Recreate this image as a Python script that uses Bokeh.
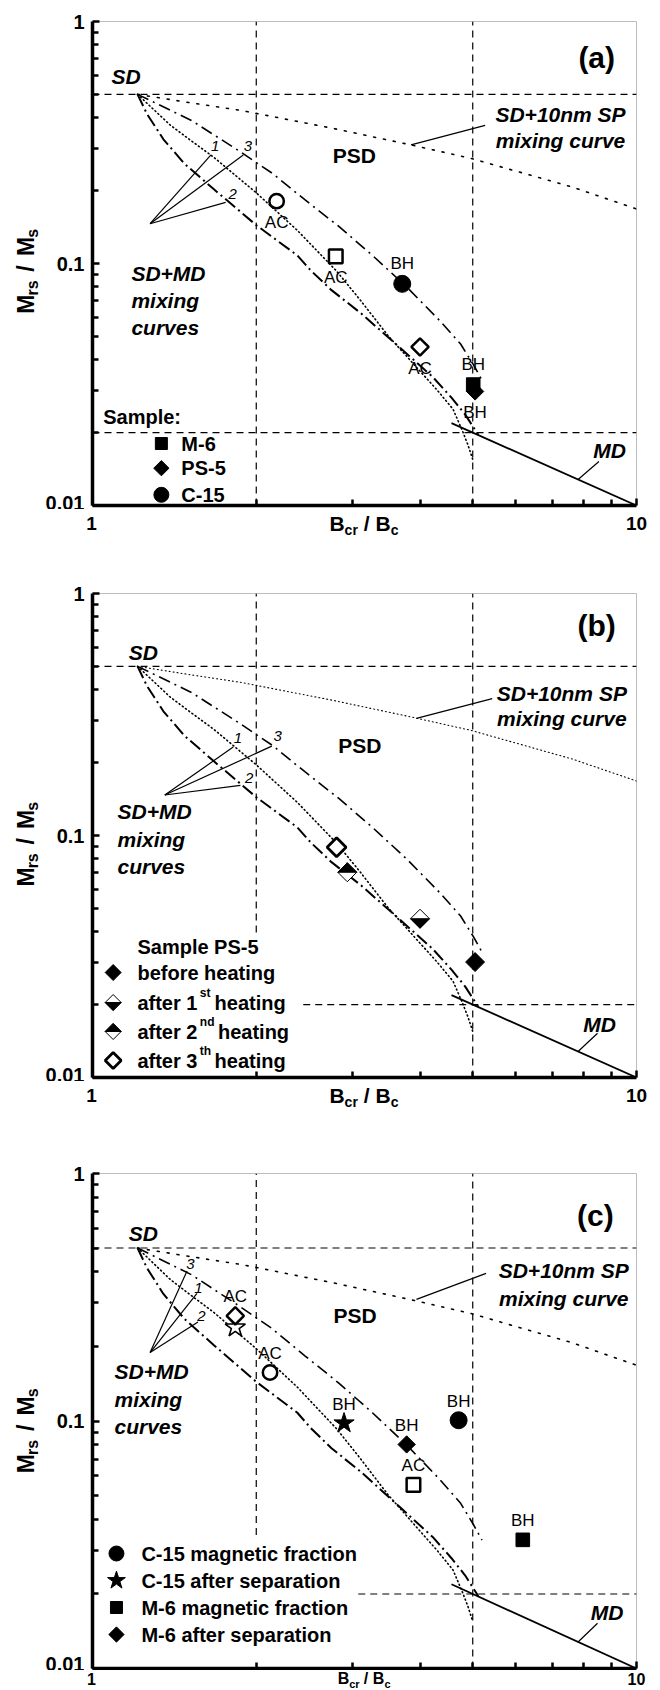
import math
from bokeh.plotting import figure
from bokeh.layouts import column, row
from bokeh.models import Range1d, FixedTicker, CustomJSTickFormatter, Label
from bokeh.embed import file_html
from bokeh.resources import INLINE

FONT = "Liberation Sans"

# ---------------- axes ----------------
X_RANGE = (1, 10)
Y_RANGE = (0.01, 1)
X_TICKS = [1, 10]
X_TICK_LABELS = ["1", "10"]
X_MINOR = [2, 3, 4, 5, 6, 7, 8, 9]
Y_TICKS = [0.01, 0.1, 1]
Y_MINOR = [0.02, 0.03, 0.04, 0.05, 0.06, 0.07, 0.08, 0.09,
           0.2, 0.3, 0.4, 0.5, 0.6, 0.7, 0.8, 0.9]

# ---------------- guide levels ----------------
SD_LEVEL = 0.5      # Mrs/Ms
MD_LEVEL = 0.02     # Mrs/Ms
SD_BCR = 2          # Bcr/Bc
MD_BCR = 5          # Bcr/Bc

# ---------------- model curves (Dunlop 2002) ----------------
SDMD1_X = [1.21, 1.39, 1.52, 1.67, 2.0, 2.38, 2.81, 3.1, 3.49, 3.96, 4.3, 4.6, 4.78, 4.9, 5.0]
SDMD1_Y = [0.5, 0.373, 0.321, 0.275, 0.196, 0.137, 0.093, 0.071, 0.0505, 0.0368, 0.030, 0.025, 0.0205, 0.0178, 0.0155]
SDMD2_X = [1.21, 1.26, 1.30, 1.35, 1.477, 1.67, 2.0, 2.38, 2.52, 2.75, 3.12, 3.35, 3.69, 4.22, 4.57, 4.84, 5.12]
SDMD2_Y = [0.5, 0.414, 0.372, 0.326, 0.258, 0.203, 0.144, 0.108, 0.0935, 0.0776, 0.0621, 0.0539, 0.0445, 0.034, 0.0279, 0.0238, 0.0196]
SDMD3_X = [1.21, 1.52, 1.85, 2.14, 2.46, 2.84, 3.27, 3.78, 4.35, 4.75, 5.02, 5.20]
SDMD3_Y = [0.5, 0.39, 0.294, 0.236, 0.183, 0.142, 0.108, 0.080, 0.058, 0.0465, 0.038, 0.033]
SDSP_X = [1.21, 1.5, 1.876, 2.78, 3.85, 4.96, 7.62, 10]
SDSP_Y = [0.5, 0.463, 0.429, 0.361, 0.309, 0.272, 0.207, 0.168]
MD_X = [4.57, 10]
MD_Y = [0.0219, 0.01]

# ---------------- panel (a) data ----------------
A_SAMPLES = ["M-6", "PS-5", "C-15"]
A_MARKERS = ["square", "diamond", "circle"]
A_BH_X = [5.01, 5.05, 3.71]
A_BH_Y = [0.0316, 0.0296, 0.0824]
A_BH_LABEL_POS = ["above", "below", "above"]
A_AC_X = [2.80, 4.00, 2.18]
A_AC_Y = [0.107, 0.0452, 0.181]
A_AC_LABEL_POS = ["below", "below", "below"]

# ---------------- panel (b) data ----------------
B_STEPS = ["before heating", "after 1", "after 2", "after 3"]
B_STEP_SUP = ["", "st", "nd", "th"]
B_STEP_FILL = ["full", "bottom", "top", "none"]
B_X = [5.05, 4.00, 2.94, 2.81]
B_Y = [0.0300, 0.0453, 0.0705, 0.0895]

# ---------------- panel (c) data ----------------
C_SERIES = ["C-15 magnetic fraction", "C-15 after separation",
            "M-6 magnetic fraction", "M-6 after separation"]
C_MARKERS = ["circle", "star", "square", "diamond"]
C_BH_X = [4.71, 2.90, 6.18, 3.78]
C_BH_Y = [0.1007, 0.098, 0.0331, 0.0804]
C_AC_X = [2.12, 1.83, 3.89, 1.83]
C_AC_Y = [0.157, 0.239, 0.0552, 0.266]
C_AC_LABELLED = [True, False, True, True]

# ---------------- geometry helpers (page pixels -> data) ----------------
FRAME_LEFT = 91.0
XDEC = 545.0
YLAB_W = 42
MAIN_W = 660 - YLAB_W


def px_x(px):
    return 10 ** ((px - FRAME_LEFT) / XDEC)


def px_y(py, top, ydec):
    return 10 ** (-(py - top) / ydec)


def mid(base, size):
    # vertical centre of a text whose baseline is at `base` (page px, y down)
    return base - 0.35 * size


def add_text(p, x, y, text, size=21, style="bold", align="left", angle=0.0):
    p.add_layout(Label(x=x, y=y, text=text, text_font=FONT,
                       text_font_size=f"{size}px", text_font_style=style,
                       text_align=align, text_baseline="middle",
                       angle=angle, text_color="black"))


def make_fig(height, top_border, bottom_border):
    p = figure(width=MAIN_W, height=height, x_axis_type="log", y_axis_type="log",
               x_range=Range1d(*X_RANGE), y_range=Range1d(*Y_RANGE),
               output_backend="svg", toolbar_location=None,
               min_border_left=int(FRAME_LEFT) - YLAB_W, min_border_right=24,
               min_border_top=top_border, min_border_bottom=bottom_border)
    p.grid.visible = False
    p.background_fill_color = "white"
    p.border_fill_color = "white"
    p.outline_line_color = "#bdbdbd"
    p.outline_line_width = 1
    for ax in (p.xaxis[0], p.yaxis[0]):
        ax.axis_line_width = 3.5
        ax.axis_line_color = "black"
        ax.major_tick_in = 7
        ax.major_tick_out = 0
        ax.minor_tick_in = 6
        ax.minor_tick_out = 0
        ax.major_tick_line_width = 2.5
        ax.minor_tick_line_width = 2.5
        ax.major_tick_line_color = "black"
        ax.minor_tick_line_color = "black"
        ax.axis_label = None
    p.xaxis[0].ticker = FixedTicker(ticks=X_TICKS, minor_ticks=X_MINOR)
    p.xaxis[0].formatter = CustomJSTickFormatter(code="return '';")
    p.xaxis[0].major_label_text_font_size = "2px"
    p.xaxis[0].major_label_standoff = 0
    p.yaxis[0].ticker = FixedTicker(ticks=Y_TICKS, minor_ticks=Y_MINOR)
    p.yaxis[0].formatter = CustomJSTickFormatter(code="return tick.toString();")
    p.yaxis[0].major_label_text_font = FONT
    p.yaxis[0].major_label_text_font_style = "bold"
    p.yaxis[0].major_label_text_font_size = "20px"
    p.yaxis[0].major_label_text_color = "black"
    p.yaxis[0].major_label_standoff = 8
    return p


def blank_fig(width, height):
    f = figure(width=width, height=height, x_range=Range1d(0, width),
               y_range=Range1d(height, 0), x_axis_location=None, y_axis_location=None,
               output_backend="svg", toolbar_location=None,
               min_border_left=0, min_border_right=0, min_border_top=0, min_border_bottom=0)
    f.grid.visible = False
    f.outline_line_color = None
    f.background_fill_color = "white"
    f.border_fill_color = "white"
    return f


def y_title_fig(height, top_border, frame_h):
    f = blank_fig(YLAB_W, height)
    yc = top_border + frame_h / 2.0
    pieces = [("M", 23, 0, 0.0), ("rs", 16, 4.5, 19.2), ("/", 23, 0, 44.3),
              ("M", 23, 0, 60.7), ("s", 16, 4.5, 79.9)]
    total = 88.8
    y0 = yc + total / 2.0
    for txt, sz, dv, off in pieces:
        add_text(f, mid(33.5 + dv, sz), y0 - off, txt, sz, "bold", "left", angle=math.pi / 2)
    return f


def x_title_fig(height, frame_bottom_local, tick_size=19, big=21, small=14, gap=25):
    # local y: 0 = page row just below the main figure
    f = blank_fig(660, height)
    base = frame_bottom_local + gap
    for t, lab in zip(X_TICKS, X_TICK_LABELS):
        add_text(f, FRAME_LEFT + XDEC * math.log10(t), mid(base, tick_size), lab, tick_size, "bold", "center")
    k = big / 21.0
    x0 = 363.5 - 34.6 * k
    pieces = [("B", big, 0, 0.0), ("cr", small, 4 * k, 15.2 * k), ("/", big, 0, 34.4 * k),
              ("B", big, 0, 46.2 * k), ("c", small, 4 * k, 61.4 * k)]
    for txt, sz, dv, off in pieces:
        add_text(f, x0 + off, mid(base + dv, sz), txt, sz, "bold", "left")
    return f


def guides(p, h2_xmin=X_RANGE[0], v2_ymin=Y_RANGE[0]):
    dash = dict(line_dash="7 5", line_width=1.2, color="black")
    p.line(list(X_RANGE), [SD_LEVEL, SD_LEVEL], **dash)
    p.line([h2_xmin, X_RANGE[1]], [MD_LEVEL, MD_LEVEL], **dash)
    p.line([SD_BCR, SD_BCR], [v2_ymin, Y_RANGE[1]], **dash)
    p.line([MD_BCR, MD_BCR], list(Y_RANGE), **dash)


def curves(p, sp_dash="2 8", sp_width=1.6):
    p.line(SDSP_X, SDSP_Y, line_dash=sp_dash, line_width=sp_width, color="black", line_cap="round")
    p.line(SDMD1_X, SDMD1_Y, line_dash="1 3", line_width=1.6, color="black", line_cap="round")
    p.line(SDMD2_X, SDMD2_Y, line_dash="13 4 2 4", line_width=2.0, color="black")
    p.line(SDMD3_X, SDMD3_Y, line_dash="12 5 2 5", line_width=1.6, color="black")
    p.line(MD_X, MD_Y, line_width=1.8, color="black")


def leaders(p, common, ends, labels_xy, sp_seg, md_seg):
    for (ex, ey) in ends:
        p.segment(x0=[common[0]], y0=[common[1]], x1=[ex], y1=[ey], line_width=1.2, color="black")
    for txt, (lx, ly) in zip(["1", "3", "2"], labels_xy):
        add_text(p, lx, ly, txt, 15, "italic", "center")
    p.segment(x0=[sp_seg[0]], y0=[sp_seg[1]], x1=[sp_seg[2]], y1=[sp_seg[3]], line_width=1.2, color="black")
    p.segment(x0=[md_seg[0]], y0=[md_seg[1]], x1=[md_seg[2]], y1=[md_seg[3]], line_width=1.2, color="black")


def common_texts(p, panel, panel_xy, sd_xy, psd_xy, sp_xy, sdmd_x, sdmd_ys, md_xy):
    add_text(p, panel_xy[0], panel_xy[1], panel, 30, "bold", "center")
    add_text(p, sd_xy[0], sd_xy[1], "SD", 21, "bold italic", "center")
    add_text(p, psd_xy[0], psd_xy[1], "PSD", 21, "bold", "center")
    add_text(p, sp_xy[0], sp_xy[1], "SD+10nm SP", 21, "bold italic", "center")
    add_text(p, sp_xy[0], sp_xy[2], "mixing curve", 21, "bold italic", "center")
    for txt, yy in zip(["SD+MD", "mixing", "curves"], sdmd_ys):
        add_text(p, sdmd_x, yy, txt, 21, "bold italic", "left")
    add_text(p, md_xy[0], md_xy[1], "MD", 21, "bold italic", "center")


def draw_marker(p, kind, xs, ys, filled, size):
    fill = "black" if filled else "white"
    lw = 1.0 if filled else 2.5
    if kind == "diamond":
        p.scatter(xs, ys, marker="square", angle=math.pi / 4, size=size * 0.72,
                  fill_color=fill, line_color="black", line_width=lw)
    elif kind == "star":
        p.scatter(xs, ys, marker="star", size=size * 1.25, fill_color=fill,
                  line_color="black", line_width=1.0 if filled else 1.6)
    elif kind == "square":
        p.scatter(xs, ys, marker="square", size=size * 0.8, fill_color=fill,
                  line_color="black", line_width=lw)
    else:
        p.scatter(xs, ys, marker="circle", size=size * 0.85 if not filled else size,
                  fill_color=fill, line_color="black", line_width=lw)


def half_diamond(p, x, y, h, ydec, fill):
    fx = 10 ** (h / XDEC)
    fy = 10 ** (h / ydec)
    left, right = x / fx, x * fx
    topy, boty = y * fy, y / fy
    if fill == "full":
        p.patch([left, x, right, x], [y, topy, y, boty], fill_color="black", line_color="black", line_width=1)
        return
    if fill == "none":
        p.patch([left, x, right, x], [y, topy, y, boty], fill_color="white", line_color="black", line_width=2.8)
        return
    p.patch([left, x, right, x], [y, topy, y, boty], fill_color="white", line_color="black", line_width=1)
    if fill == "top":
        p.patch([left, x, right], [y, topy, y], fill_color="black", line_color="black", line_width=1)
    else:
        p.patch([left, x, right], [y, boty, y], fill_color="black", line_color="black", line_width=1)


# ======================= panel (a) =======================
A_TOP, A_BOT, A_DEC = 21.0, 505.0, 242.0
A_H = 21 + 484 + 4
pa = make_fig(A_H, 21, 4)
guides(pa)
curves(pa)
leaders(pa, (1.276, 0.146), [(1.651, 0.281), (1.893, 0.281), (1.757, 0.179)],
        [(1.68, 0.305), (1.93, 0.305), (1.81, 0.193)],
        (3.85, 0.309, 5.27, 0.372), (7.80, 0.01277, 8.53, 0.0152))
common_texts(pa, "(a)", (8.45, 0.71), (1.153, 0.595), (3.03, 0.279),
             (7.25, 0.413, 0.322), px_x(130), [0.0910, 0.0703, 0.0544], (8.92, 0.01687))
for kind, bx, by, bpos, ax_, ay, apos in zip(A_MARKERS, A_BH_X, A_BH_Y, A_BH_LABEL_POS,
                                            A_AC_X, A_AC_Y, A_AC_LABEL_POS):
    draw_marker(pa, kind, [bx], [by], True, 17)
    draw_marker(pa, kind, [ax_], [ay], False, 17)
    sb = 10 ** ((20 if bpos == "above" else -21) / A_DEC)
    add_text(pa, bx, by * sb, "BH", 17, "normal", "center")
    sa = 10 ** ((20 if apos == "above" else -21.5) / A_DEC)
    add_text(pa, ax_, ay * sa, "AC", 17, "normal", "center")
add_text(pa, px_x(101.7), px_y(mid(423.3, 20), A_TOP, A_DEC), "Sample:", 20, "bold", "left")
for i, (name, kind) in enumerate(zip(A_SAMPLES, A_MARKERS)):
    cy = [443.0, 467.7, 494.3][i]
    draw_marker(pa, kind, [px_x(160)], [px_y(cy, A_TOP, A_DEC)], True, 15)
    add_text(pa, px_x(180), px_y(cy, A_TOP, A_DEC), name, 20, "bold", "left")
ya = y_title_fig(A_H, 21, 484)
xa = x_title_fig(570 - A_H, A_BOT - A_H)

# ======================= panel (b) =======================
B_TOP, B_BOT, B_DEC = 593.0, 1077.0, 242.0
B_H = 23 + 484 + 4
pb = make_fig(B_H, 23, 4)
guides(pb, h2_xmin=2.44, v2_ymin=0.0397)
curves(pb, sp_dash="1 3", sp_width=1.1)
leaders(pb, (1.358, 0.147), [(1.814, 0.232), (2.136, 0.234), (1.870, 0.161)],
        [(1.85, 0.253), (2.19, 0.257), (1.94, 0.173)],
        (3.94, 0.305, 5.43, 0.368), (7.80, 0.01277, 8.48, 0.01524))
common_texts(pb, "(b)", (8.45, 0.74), (1.24, 0.57), (3.10, 0.236),
             (7.29, 0.387, 0.305), px_x(116), [0.1259, 0.0959, 0.0743], (8.55, 0.0166))
for x, y, fill in zip(B_X, B_Y, B_STEP_FILL):
    half_diamond(pb, x, y, 9.5, B_DEC, fill)
add_text(pb, px_x(136), px_y(mid(953, 20), B_TOP, B_DEC), "Sample PS-5", 20, "bold", "left")
for i, (step, sup, fill) in enumerate(zip(B_STEPS, B_STEP_SUP, B_STEP_FILL)):
    cy = [972.0, 1002.0, 1031.0, 1060.0][i]
    half_diamond(pb, px_x(111.7), px_y(cy, B_TOP, B_DEC), 8.0, B_DEC, fill)
    add_text(pb, px_x(136), px_y(cy, B_TOP, B_DEC), step, 20, "bold", "left")
    if sup:
        add_text(pb, px_x(198.5), px_y(cy - 9.5, B_TOP, B_DEC), sup, 12, "bold", "left")
        hx = 216.7 if sup == "nd" else 213.3
        add_text(pb, px_x(hx), px_y(cy, B_TOP, B_DEC), "heating", 20, "bold", "left")
yb = y_title_fig(B_H, 23, 484)
xb = x_title_fig(580 - B_H, (B_BOT - 570) - B_H)

# ======================= panel (c) =======================
C_TOP, C_BOT, C_DEC = 1173.0, 1668.0, 247.5
C_H = 23 + 495 + 2
pc = make_fig(C_H, 23, 2)
guides(pc, h2_xmin=3.08, v2_ymin=0.0346)
curves(pc)
leaders(pc, (1.276, 0.189), [(1.556, 0.328), (1.492, 0.404), (1.563, 0.251)],
        [(1.565, 0.346), (1.513, 0.430), (1.585, 0.265)],
        (3.94, 0.310, 5.29, 0.395), (7.80, 0.01277, 8.48, 0.01524))
common_texts(pc, "(c)", (8.40, 0.678), (1.24, 0.573), (3.04, 0.268),
             (7.35, 0.406, 0.313), px_x(113), [0.159, 0.1227, 0.0953], (8.83, 0.0168))
for kind, ax_, ay in zip(C_MARKERS, C_AC_X, C_AC_Y):
    draw_marker(pc, kind, [ax_], [ay], False, 17)
for kind, bx, by, ax_, ay, lab in zip(C_MARKERS, C_BH_X, C_BH_Y, C_AC_X, C_AC_Y, C_AC_LABELLED):
    draw_marker(pc, kind, [bx], [by], True, 17)
    up = 10 ** (19 / C_DEC)
    add_text(pc, bx, by * up, "BH", 17, "normal", "center")
    if lab:
        add_text(pc, ax_, ay * up, "AC", 17, "normal", "center")
for i, (name, kind) in enumerate(zip(C_SERIES, C_MARKERS)):
    cy = [1553.0, 1580.0, 1607.0, 1634.0][i]
    draw_marker(pc, kind, [px_x(115)], [px_y(cy, C_TOP, C_DEC)], True, 15)
    add_text(pc, px_x(140), px_y(cy, C_TOP, C_DEC), name, 20, "bold", "left")
yc_ = y_title_fig(C_H, 23, 495)
# last row is only 20 px tall: smaller text so it fits inside the window
xc = x_title_fig(540 - C_H, (C_BOT - 1150) - C_H, tick_size=16, big=16, small=11, gap=16)

layout = column(row(ya, pa, spacing=0), xa,
                row(yb, pb, spacing=0), xb,
                row(yc_, pc, spacing=0), xc, spacing=0)
open("out.html", "w").write(file_html(layout, INLINE))
